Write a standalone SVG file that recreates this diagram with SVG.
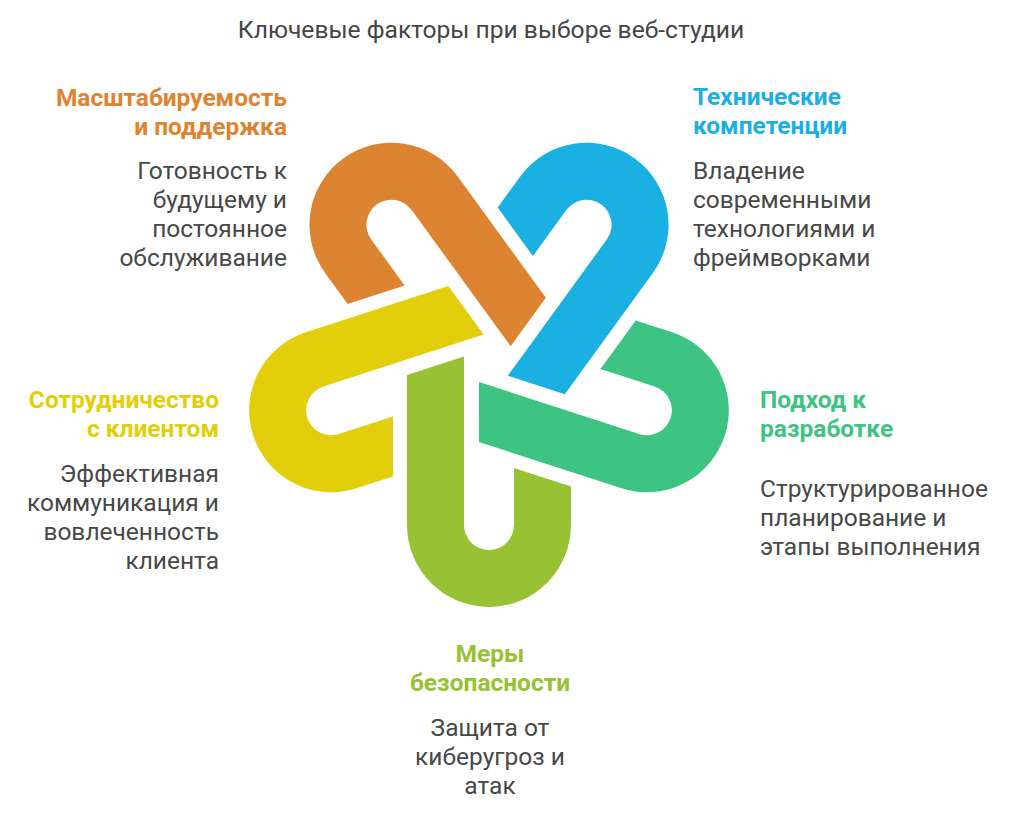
<svg xmlns="http://www.w3.org/2000/svg" width="1024" height="817" viewBox="0 0 1024 817">
<style>
text{font-family:Roboto,"Liberation Sans",sans-serif}
.title{font-size:24.6px;fill:#454545}
.h{font-size:24.5px;font-weight:bold}
.d{font-size:24.5px;fill:#484848}
.r{text-anchor:end}
.m{text-anchor:middle}
</style>
<defs>
<path id="loop" d="M407,375.1 L407,525 A82,82 0 0 0 571,525 L571,486.6 L514,468.1 L514,525 A25,25 0 0 1 464,525 L464,356.6 Z"/>
</defs>
<rect width="1024" height="817" fill="#ffffff"/>
<text class="title m" x="491" y="38">Ключевые факторы при выборе веб-студии</text>
<g id="loops">
<g id="loop-security"><use href="#loop" fill="#96C234"/></g>
<g id="loop-approach"><use href="#loop" fill="#3DC483" transform="rotate(-72 489 359)"/></g>
<g id="loop-technical"><use href="#loop" fill="#1AB0E1" transform="rotate(-144 489 359)"/></g>
<g id="loop-scalability"><use href="#loop" fill="#DD8433" transform="rotate(144 489 359)"/></g>
<g id="loop-collaboration"><use href="#loop" fill="#E2CE0A" transform="rotate(72 489 359)"/></g>
</g>
<g id="label-scalability">
<text class="h r" x="287" y="106" fill="#DE8431">Масштабируемость</text>
<text class="h r" x="287" y="135" fill="#DE8431">и поддержка</text>
<text class="d r" x="287" y="179">Готовность к</text>
<text class="d r" x="287" y="208">будущему и</text>
<text class="d r" x="287" y="237">постоянное</text>
<text class="d r" x="287" y="266">обслуживание</text>
</g>
<g id="label-technical">
<text class="h" x="693" y="105" fill="#1AB0E1">Технические</text>
<text class="h" x="693" y="134" fill="#1AB0E1">компетенции</text>
<text class="d" x="693" y="179">Владение</text>
<text class="d" x="693" y="208">современными</text>
<text class="d" x="693" y="237">технологиями и</text>
<text class="d" x="693" y="266">фреймворками</text>
</g>
<g id="label-collaboration">
<text class="h r" x="219" y="408" fill="#E2CE0A">Сотрудничество</text>
<text class="h r" x="219" y="437" fill="#E2CE0A">с клиентом</text>
<text class="d r" x="219" y="482">Эффективная</text>
<text class="d r" x="219" y="511">коммуникация и</text>
<text class="d r" x="219" y="540">вовлеченность</text>
<text class="d r" x="219" y="569">клиента</text>
</g>
<g id="label-approach">
<text class="h" x="760" y="408" fill="#3DC483">Подход к</text>
<text class="h" x="760" y="437" fill="#3DC483">разработке</text>
<text class="d" x="760" y="497">Структурированное</text>
<text class="d" x="760" y="526">планирование и</text>
<text class="d" x="760" y="555">этапы выполнения</text>
</g>
<g id="label-security">
<text class="h m" x="490" y="662" fill="#96C234">Меры</text>
<text class="h m" x="490" y="691" fill="#96C234">безопасности</text>
<text class="d m" x="490" y="736">Защита от</text>
<text class="d m" x="490" y="765">киберугроз и</text>
<text class="d m" x="490" y="794">атак</text>
</g>
</svg>
